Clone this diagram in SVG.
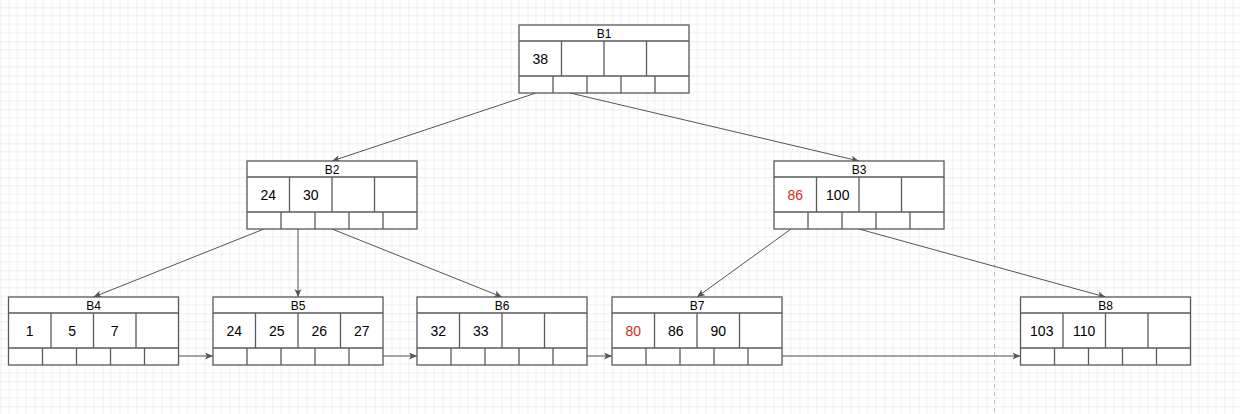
<svg xmlns="http://www.w3.org/2000/svg" width="1240" height="414" viewBox="0 0 1240 414">
<defs>
<pattern id="grid" patternUnits="userSpaceOnUse" x="0.5" y="7.3" width="34" height="34">
<path d="M8.5 0V34M17 0V34M25.5 0V34M0 8.5H34M0 17H34M0 25.5H34" stroke="#f0f0f0" stroke-width="1" fill="none"/>
<path d="M0 0V34M0 0H34" stroke="#dddddd" stroke-width="1" fill="none"/>
</pattern>
<marker id="arr" markerUnits="userSpaceOnUse" markerWidth="9" markerHeight="8" refX="8" refY="3.5" orient="auto">
<path d="M0,0 L8,3.5 L0,7 L2,3.5 z" fill="#555"/>
</marker>
<style>
.box{fill:#fff;stroke:#5a5a5a;stroke-width:1.3}
.ln{stroke:#5a5a5a;stroke-width:1.3;fill:none}
.hd{font-family:"Liberation Sans",Arial,sans-serif;font-size:12px;fill:#000;text-anchor:middle;dominant-baseline:central}
.k{font-family:"Liberation Sans",Arial,sans-serif;font-size:14px;fill:#000;text-anchor:middle;dominant-baseline:central}
.red{fill:#e02424}
.c{stroke:#555;stroke-width:1;fill:none;marker-end:url(#arr)}
</style>
</defs>
<rect x="0" y="0" width="1240" height="414" fill="#fff"/>
<rect x="0" y="0" width="1240" height="414" fill="url(#grid)"/>
<line x1="994.5" y1="0" x2="994.5" y2="414" stroke="#c4c4c4" stroke-width="1" stroke-dasharray="4 4"/>

<g id="connectors">
<line class="c" x1="536" y1="93" x2="332" y2="161"/>
<line class="c" x1="570" y1="93" x2="859" y2="161"/>
<line class="c" x1="264" y1="229" x2="93.5" y2="297"/>
<line class="c" x1="298" y1="229" x2="298" y2="297"/>
<line class="c" x1="332" y1="229" x2="502" y2="297"/>
<line class="c" x1="791" y1="229" x2="697" y2="297"/>
<line class="c" x1="859" y1="229" x2="1105.5" y2="297"/>
<line class="c" x1="178.5" y1="356" x2="213" y2="356"/>
<line class="c" x1="383" y1="356" x2="417" y2="356"/>
<line class="c" x1="587" y1="356" x2="612" y2="356"/>
<line class="c" x1="782" y1="356" x2="1020.5" y2="356"/>
</g>

<g id="B1" transform="translate(519,25)">
<rect class="box" x="0" y="0" width="170" height="68"/>
<path class="ln" d="M0 16H170M0 51H170M42.5 16V51M85 16V51M127.5 16V51M34 51V68M68 51V68M102 51V68M136 51V68"/>
<text class="hd" x="85" y="8.5">B1</text>
<text class="k" x="21.25" y="33.5">38</text>
</g>

<g id="B2" transform="translate(247,161)">
<rect class="box" x="0" y="0" width="170" height="68"/>
<path class="ln" d="M0 16H170M0 51H170M42.5 16V51M85 16V51M127.5 16V51M34 51V68M68 51V68M102 51V68M136 51V68"/>
<text class="hd" x="85" y="8.5">B2</text>
<text class="k" x="21.25" y="33.5">24</text>
<text class="k" x="63.75" y="33.5">30</text>
</g>

<g id="B3" transform="translate(774,161)">
<rect class="box" x="0" y="0" width="170" height="68"/>
<path class="ln" d="M0 16H170M0 51H170M42.5 16V51M85 16V51M127.5 16V51M34 51V68M68 51V68M102 51V68M136 51V68"/>
<text class="hd" x="85" y="8.5">B3</text>
<text class="k red" x="21.25" y="33.5">86</text>
<text class="k" x="63.75" y="33.5">100</text>
</g>

<g id="B4" transform="translate(8.5,297)">
<rect class="box" x="0" y="0" width="170" height="68"/>
<path class="ln" d="M0 16H170M0 51H170M42.5 16V51M85 16V51M127.5 16V51M34 51V68M68 51V68M102 51V68M136 51V68"/>
<text class="hd" x="85" y="8.5">B4</text>
<text class="k" x="21.25" y="33.5">1</text>
<text class="k" x="63.75" y="33.5">5</text>
<text class="k" x="106.25" y="33.5">7</text>
</g>

<g id="B5" transform="translate(213,297)">
<rect class="box" x="0" y="0" width="170" height="68"/>
<path class="ln" d="M0 16H170M0 51H170M42.5 16V51M85 16V51M127.5 16V51M34 51V68M68 51V68M102 51V68M136 51V68"/>
<text class="hd" x="85" y="8.5">B5</text>
<text class="k" x="21.25" y="33.5">24</text>
<text class="k" x="63.75" y="33.5">25</text>
<text class="k" x="106.25" y="33.5">26</text>
<text class="k" x="148.75" y="33.5">27</text>
</g>

<g id="B6" transform="translate(417,297)">
<rect class="box" x="0" y="0" width="170" height="68"/>
<path class="ln" d="M0 16H170M0 51H170M42.5 16V51M85 16V51M127.5 16V51M34 51V68M68 51V68M102 51V68M136 51V68"/>
<text class="hd" x="85" y="8.5">B6</text>
<text class="k" x="21.25" y="33.5">32</text>
<text class="k" x="63.75" y="33.5">33</text>
</g>

<g id="B7" transform="translate(612,297)">
<rect class="box" x="0" y="0" width="170" height="68"/>
<path class="ln" d="M0 16H170M0 51H170M42.5 16V51M85 16V51M127.5 16V51M34 51V68M68 51V68M102 51V68M136 51V68"/>
<text class="hd" x="85" y="8.5">B7</text>
<text class="k red" x="21.25" y="33.5">80</text>
<text class="k" x="63.75" y="33.5">86</text>
<text class="k" x="106.25" y="33.5">90</text>
</g>

<g id="B8" transform="translate(1020.5,297)">
<rect class="box" x="0" y="0" width="170" height="68"/>
<path class="ln" d="M0 16H170M0 51H170M42.5 16V51M85 16V51M127.5 16V51M34 51V68M68 51V68M102 51V68M136 51V68"/>
<text class="hd" x="85" y="8.5">B8</text>
<text class="k" x="21.25" y="33.5">103</text>
<text class="k" x="63.75" y="33.5">110</text>
</g>
</svg>
